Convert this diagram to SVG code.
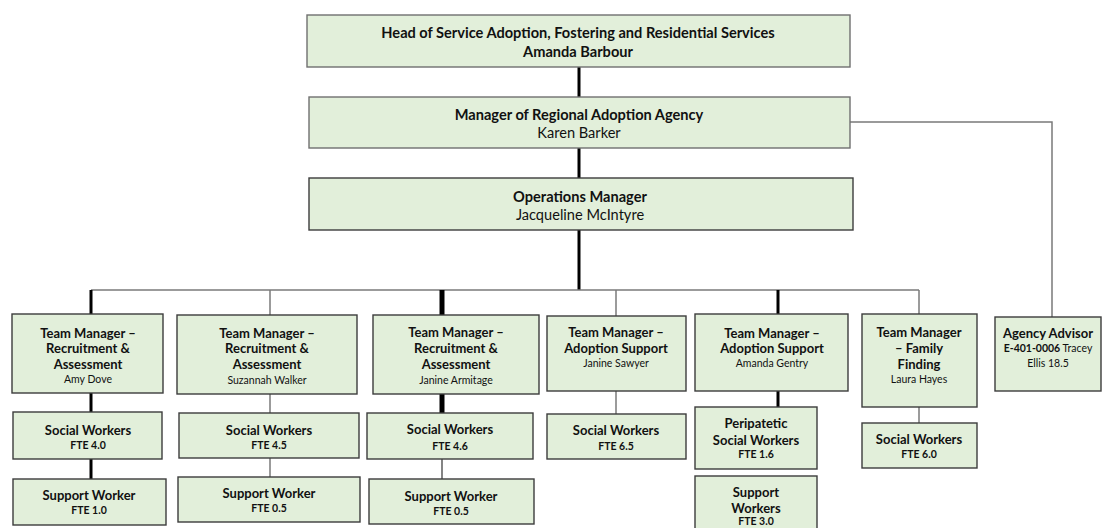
<svg xmlns="http://www.w3.org/2000/svg" width="1103" height="528" viewBox="0 0 1103 528">
<style>
.box{fill:#e2efda;stroke:#3c3c3c;stroke-width:1.4}
.lt{stroke:#707070}
text{font-family:Lato,"Liberation Sans",sans-serif;fill:#111;text-anchor:middle;dominant-baseline:central}
.b{font-weight:bold;font-size:13px}
.tb{font-weight:bold;font-size:14.6px}
.tr{font-size:14.6px}
.s{font-size:10.5px}
.sb{font-weight:bold;font-size:10.5px}
.thick{stroke:#000;stroke-width:3;fill:none}
.vthick{stroke:#000;stroke-width:5;fill:none}
.gray{stroke:#7a7a7a;stroke-width:1.5;fill:none}
.thin{stroke:#333;stroke-width:1.2;fill:none}
</style>
<rect width="1103" height="528" fill="#fff"/>
<g id="connectors">
<line class="thick" x1="579" y1="67" x2="579" y2="97"/>
<line class="thick" x1="579" y1="148" x2="579" y2="178"/>
<line class="thick" x1="579" y1="230" x2="579" y2="290"/>
<polyline class="gray" points="850,122 1052,122 1052,317"/>
<line class="gray" x1="91" y1="290" x2="919" y2="290"/>
<line class="thick" x1="91" y1="290" x2="91" y2="314"/>
<line class="thick" x1="91" y1="393" x2="91" y2="412"/>
<line class="thick" x1="91" y1="459" x2="91" y2="479"/>
<line class="gray" x1="270" y1="290" x2="270" y2="315"/>
<line class="gray" x1="270" y1="394" x2="270" y2="413"/>
<line class="gray" x1="270" y1="458" x2="270" y2="477"/>
<line class="vthick" x1="442" y1="290" x2="442" y2="315"/>
<line class="vthick" x1="442" y1="394" x2="442" y2="413"/>
<line class="thin" x1="442" y1="459" x2="442" y2="479"/>
<line class="gray" x1="616" y1="290" x2="616" y2="316"/>
<line class="gray" x1="616" y1="391" x2="616" y2="414"/>
<line class="thick" x1="778" y1="290" x2="778" y2="314"/>
<line class="thick" x1="778" y1="391" x2="778" y2="407"/>
<line class="gray" x1="919" y1="290" x2="919" y2="314"/>
<line class="gray" x1="919" y1="407" x2="919" y2="423"/>
</g>
<g id="head">
<rect class="box lt" x="307" y="15" width="543" height="52"/>
<text class="tb" x="578" y="32">Head of Service Adoption, Fostering and Residential Services</text>
<text class="tb" x="578" y="51">Amanda Barbour</text>
</g>
<g id="raa-manager">
<rect class="box lt" x="309" y="97" width="541" height="51"/>
<text class="tb" x="579" y="114">Manager of Regional Adoption Agency</text>
<text class="tr" x="579" y="132">Karen Barker</text>
</g>
<g id="ops-manager">
<rect class="box" x="309" y="178" width="544" height="52"/>
<text class="tb" x="580" y="196">Operations Manager</text>
<text class="tr" x="580" y="214">Jacqueline McIntyre</text>
</g>
<g id="tm-amy">
<rect class="box" x="12" y="314" width="151" height="79"/>
<text class="b" x="88" y="333">Team Manager –</text>
<text class="b" x="88" y="348">Recruitment &amp;</text>
<text class="b" x="88" y="364">Assessment</text>
<text class="s" x="88" y="379">Amy Dove</text>
</g>
<g id="sw-amy">
<rect class="box" x="13" y="412" width="149" height="47"/>
<text class="b" x="88" y="430">Social Workers</text>
<text class="sb" x="88" y="445">FTE 4.0</text>
</g>
<g id="supw-amy">
<rect class="box" x="13" y="479" width="153" height="46"/>
<text class="b" x="89" y="495">Support Worker</text>
<text class="sb" x="89" y="510">FTE 1.0</text>
</g>
<g id="tm-suzannah">
<rect class="box" x="177" y="315" width="180" height="79"/>
<text class="b" x="267" y="333">Team Manager –</text>
<text class="b" x="267" y="348">Recruitment &amp;</text>
<text class="b" x="267" y="364">Assessment</text>
<text class="s" x="267" y="380">Suzannah Walker</text>
</g>
<g id="sw-suzannah">
<rect class="box" x="179" y="413" width="180" height="45"/>
<text class="b" x="269" y="430">Social Workers</text>
<text class="sb" x="269" y="445">FTE 4.5</text>
</g>
<g id="supw-suzannah">
<rect class="box" x="178" y="477" width="182" height="45"/>
<text class="b" x="269" y="493">Support Worker</text>
<text class="sb" x="269" y="508">FTE 0.5</text>
</g>
<g id="tm-janine-a">
<rect class="box" x="373" y="315" width="166" height="79"/>
<text class="b" x="456" y="332">Team Manager –</text>
<text class="b" x="456" y="348">Recruitment &amp;</text>
<text class="b" x="456" y="364">Assessment</text>
<text class="s" x="456" y="380">Janine Armitage</text>
</g>
<g id="sw-janine-a">
<rect class="box" x="367" y="413" width="166" height="46"/>
<text class="b" x="450" y="429">Social Workers</text>
<text class="sb" x="450" y="446">FTE 4.6</text>
</g>
<g id="supw-janine-a">
<rect class="box" x="369" y="479" width="165" height="45"/>
<text class="b" x="451" y="496">Support Worker</text>
<text class="sb" x="451" y="511">FTE 0.5</text>
</g>
<g id="tm-janine-s">
<rect class="box" x="547" y="316" width="139" height="75"/>
<text class="b" x="616" y="332">Team Manager –</text>
<text class="b" x="616" y="348">Adoption Support</text>
<text class="s" x="616" y="363">Janine Sawyer</text>
</g>
<g id="sw-janine-s">
<rect class="box" x="547" y="414" width="139" height="45"/>
<text class="b" x="616" y="430">Social Workers</text>
<text class="sb" x="616" y="446">FTE 6.5</text>
</g>
<g id="tm-amanda">
<rect class="box" x="695" y="314" width="153" height="77"/>
<text class="b" x="772" y="333">Team Manager –</text>
<text class="b" x="772" y="348">Adoption Support</text>
<text class="s" x="772" y="363">Amanda Gentry</text>
</g>
<g id="peri-sw">
<rect class="box" x="695" y="407" width="122" height="62"/>
<text class="b" x="756" y="423">Peripatetic</text>
<text class="b" x="756" y="440">Social Workers</text>
<text class="sb" x="756" y="454">FTE 1.6</text>
</g>
<g id="supw-amanda">
<rect class="box" x="695" y="476" width="122" height="60"/>
<text class="b" x="756" y="492">Support</text>
<text class="b" x="756" y="508">Workers</text>
<text class="sb" x="756" y="521">FTE 3.0</text>
</g>
<g id="tm-laura">
<rect class="box" x="862" y="314" width="115" height="93"/>
<text class="b" x="919" y="332">Team Manager</text>
<text class="b" x="919" y="348">– Family</text>
<text class="b" x="919" y="364">Finding</text>
<text class="s" x="919" y="379">Laura Hayes</text>
</g>
<g id="sw-laura">
<rect class="box" x="862" y="423" width="115" height="45"/>
<text class="b" x="919" y="439">Social Workers</text>
<text class="sb" x="919" y="454">FTE 6.0</text>
</g>
<g id="agency-advisor">
<rect class="box" x="995" y="317" width="106" height="74"/>
<text class="b" x="1048" y="333">Agency Advisor</text>
<text class="s" x="1048" y="348"><tspan font-weight="bold">E-401-0006</tspan> Tracey</text>
<text class="s" x="1048" y="363">Ellis 18.5</text>
</g>
</svg>
